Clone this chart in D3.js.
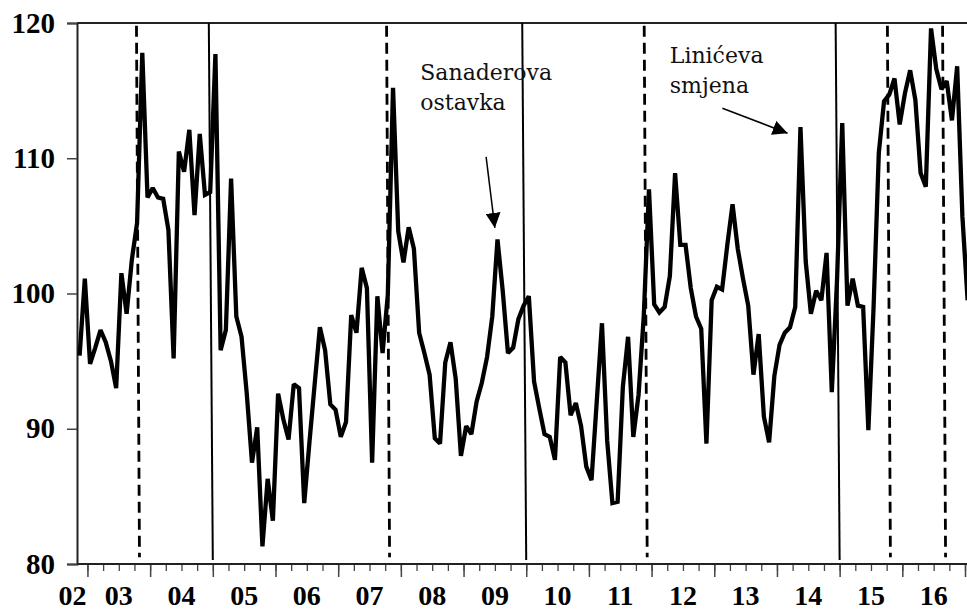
<!DOCTYPE html>
<html>
<head>
<meta charset="utf-8">
<script src="https://cdn.jsdelivr.net/npm/d3@7"></script>
<style>
  body { margin: 0; background: #fff; }
  svg { display: block; }
</style>
</head>
<body>
<div id="chart"></div>
<script>
// mjesečne vrijednosti indeksa, od studenog 2002.
const startYear = 2002 + 10 / 12;
const values = [
  95.4, 101.1, 94.8, 96.0, 97.3, 96.4, 95.0, 93.0, 101.5, 98.5, 102.5, 105.2,
  117.8, 107.1, 107.8, 107.1, 107.0, 104.7, 95.2, 110.5, 109.0, 112.1, 105.8, 111.8,
  107.3, 107.5, 117.7, 95.8, 97.3, 108.5, 98.3, 96.8, 92.6, 87.5, 90.1, 81.3,
  86.3, 83.2, 92.6, 90.7, 89.2, 93.3, 93.0, 84.5, 89.0, 93.3, 97.5, 95.8,
  91.8, 91.4, 89.4, 90.5, 98.4, 97.1, 101.9, 100.4, 87.5, 99.8, 95.6, 99.9,
  115.2, 104.6, 102.3, 104.9, 103.3, 97.1, 95.6, 94.0, 89.3, 88.9, 94.9, 96.4,
  93.7, 88.0, 90.2, 89.6, 92.0, 93.4, 95.3, 98.3, 104.0, 100.2, 95.6, 96.0,
  98.1, 99.1, 99.8, 93.5, 91.5, 89.6, 89.4, 87.7, 95.3, 94.9, 91.0, 91.9,
  90.2, 87.2, 86.2, 92.0, 97.8, 89.1, 84.5, 84.6, 93.1, 96.8, 89.4, 92.5,
  98.3, 107.7, 99.2, 98.6, 99.0, 101.3, 108.9, 103.6, 103.6, 100.4, 98.3, 97.4,
  88.9, 99.5, 100.5, 100.3, 103.6, 106.6, 103.3, 101.1, 99.1, 94.0, 97.0, 90.9,
  89.0, 93.9, 96.2, 97.1, 97.5, 99.0, 112.3, 102.4, 98.5, 100.2, 99.5, 103.0,
  92.7, 101.0, 112.6, 99.1, 101.1, 99.1, 99.0, 89.9, 99.0, 110.4, 114.2, 114.7,
  115.9, 112.5, 114.8, 116.5, 114.3, 108.9, 107.9, 119.6, 116.6, 115.1, 115.7, 112.8,
  116.8, 105.7, 99.5
];

const yTicks = [80, 90, 100, 110, 120];
const yearLabels = ["02", "03", "04", "05", "06", "07", "08", "09", "10", "11", "12", "13", "14", "15", "16"];
const yearLabelPos = [2002.76, 2003.5, 2004.5, 2005.5, 2006.5, 2007.5, 2008.5, 2009.5, 2010.5, 2011.5, 2012.5, 2013.5, 2014.5, 2015.5, 2016.5];

// okomite crte (puna = izbori, iscrtkana = promjena vlade)
const solidLines = [2005.0, 2010.0, 2015.0];
const dashedLines = [2003.83, 2007.82, 2011.93, 2015.81, 2016.69];

const notes = [
  { lines: ["Sanaderova", "ostavka"], x: 2008.31, y: [115.8, 113.57], from: [2009.36, 110.1], to: [2009.50, 104.85] },
  { lines: ["Linićeva", "smjena"], x: 2012.29, y: [117.07, 114.85], from: [2013.13, 113.7], to: [2014.17, 111.85] }
];

const width = 967, height = 613;
const svg = d3.select("#chart").append("svg")
  .attr("width", width)
  .attr("height", height);

const x = d3.scaleLinear().domain([startYear, 2017]).range([77, 965]);
const y = d3.scaleLinear().domain([80, 120]).range([564, 23]);

const series = values.map((v, i) => ({ t: startYear + (i + 0.5) / 12, v }));

// okvir
svg.append("line")
  .attr("x1", x(startYear)).attr("x2", width)
  .attr("y1", y(120)).attr("y2", y(120))
  .attr("stroke", "#222").attr("stroke-width", 2);

// y os
const yAxis = svg.append("g")
  .attr("transform", `translate(${x(startYear)},0)`)
  .call(d3.axisLeft(y).tickValues(yTicks).tickSize(10).tickFormat(""));
yAxis.select(".domain").attr("stroke", "#222").attr("stroke-width", 2);
yAxis.selectAll(".tick line").attr("stroke", "#444").attr("stroke-width", 1.5);

svg.selectAll(".ylab")
  .data(yTicks)
  .join("text")
  .attr("class", "ylab")
  .attr("x", 55)
  .attr("y", d => y(d))
  .attr("dy", "0.33em")
  .attr("text-anchor", "end")
  .attr("font-family", "Liberation Serif, Times New Roman, serif")
  .attr("font-weight", "bold")
  .attr("font-size", 29)
  .text(d => d);

// x os: kvartali i godine
const quarters = d3.range(2003, 2017.01, 0.25);
const years = d3.range(2003, 2018);

const xMinor = svg.append("g")
  .attr("transform", `translate(0,${y(80)})`)
  .call(d3.axisBottom(x).tickValues(quarters).tickSize(7).tickFormat(""));
xMinor.select(".domain").remove();
xMinor.selectAll(".tick line").attr("stroke", "#444").attr("stroke-width", 1.3);

const xMajor = svg.append("g")
  .attr("transform", `translate(0,${y(80)})`)
  .call(d3.axisBottom(x).tickValues(years).tickSize(13).tickFormat(""));
xMajor.select(".domain").remove();
xMajor.selectAll(".tick line").attr("stroke", "#444").attr("stroke-width", 1.5);

svg.append("line")
  .attr("x1", x(startYear)).attr("x2", width)
  .attr("y1", y(80)).attr("y2", y(80))
  .attr("stroke", "#222").attr("stroke-width", 2);

svg.selectAll(".xlab")
  .data(yearLabels)
  .join("text")
  .attr("class", "xlab")
  .attr("x", (d, i) => x(yearLabelPos[i]))
  .attr("y", 605)
  .attr("text-anchor", "middle")
  .attr("font-family", "Liberation Serif, Times New Roman, serif")
  .attr("font-weight", "bold")
  .attr("font-size", 28)
  .text(d => d);

// okomite crte (malo nagnute kao u izvorniku)
const lean = 4;
svg.selectAll(".solid")
  .data(solidLines)
  .join("line")
  .attr("class", "solid")
  .attr("x1", d => x(d) - lean).attr("y1", y(120))
  .attr("x2", d => x(d)).attr("y2", y(80.3))
  .attr("stroke", "#000").attr("stroke-width", 2);

svg.selectAll(".dashed")
  .data(dashedLines)
  .join("line")
  .attr("class", "dashed")
  .attr("x1", d => x(d) - 3).attr("y1", y(119.8))
  .attr("x2", d => x(d)).attr("y2", y(80.5))
  .attr("stroke", "#000").attr("stroke-width", 2.8)
  .attr("stroke-dasharray", "11,6");

// serija
const line = d3.line().x(d => x(d.t)).y(d => y(d.v));
svg.append("path")
  .datum(series)
  .attr("d", line)
  .attr("fill", "none")
  .attr("stroke", "#000")
  .attr("stroke-width", 4.3)
  .attr("stroke-linejoin", "miter")
  .attr("stroke-miterlimit", 2);

// strelice i tekst
svg.append("defs").append("marker")
  .attr("id", "arrow")
  .attr("viewBox", "0 0 10 10")
  .attr("refX", 10).attr("refY", 5)
  .attr("markerWidth", 15).attr("markerHeight", 15)
  .attr("markerUnits", "userSpaceOnUse")
  .attr("orient", "auto")
  .append("path")
  .attr("d", "M0,0 L10,5 L0,10 z")
  .attr("fill", "#000");

notes.forEach(n => {
  const g = svg.append("g");
  g.selectAll("text")
    .data(n.lines)
    .join("text")
    .attr("x", x(n.x))
    .attr("y", (d, i) => y(n.y[i]))
    .attr("font-family", "DejaVu Serif, serif")
    .attr("font-size", 22)
    .attr("fill", "#111")
    .text(d => d);
  g.append("line")
    .attr("x1", x(n.from[0])).attr("y1", y(n.from[1]))
    .attr("x2", x(n.to[0])).attr("y2", y(n.to[1]))
    .attr("stroke", "#000")
    .attr("stroke-width", 1.5)
    .attr("marker-end", "url(#arrow)");
});
</script>
</body>
</html>
